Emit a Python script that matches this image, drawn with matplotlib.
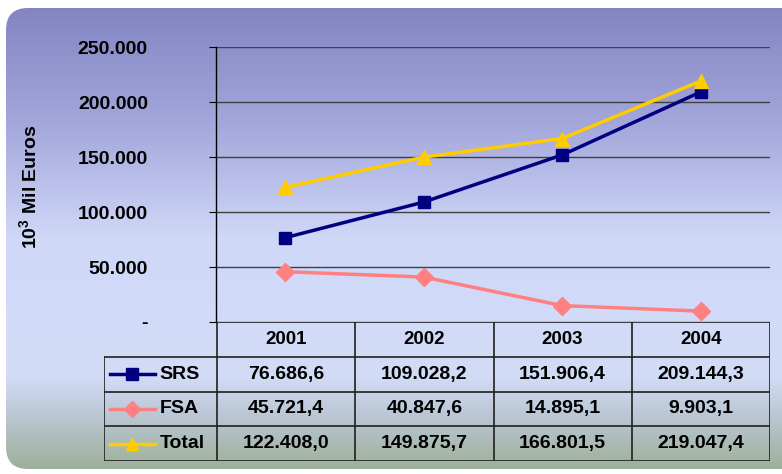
import numpy as np
import matplotlib.pyplot as plt
from matplotlib.patches import FancyBboxPatch
from matplotlib.colors import LinearSegmentedColormap

plt.rcParams['font.family'] = ['Liberation Sans', 'DejaVu Sans']
plt.rcParams['font.weight'] = 'bold'
plt.rcParams['mathtext.fontset'] = 'custom'
plt.rcParams['mathtext.bf'] = 'Liberation Sans:bold'
plt.rcParams['mathtext.rm'] = 'Liberation Sans:bold'

# dados
anos = ['2001', '2002', '2003', '2004']
srs = [76686.6, 109028.2, 151906.4, 209144.3]
fsa = [45721.4, 40847.6, 14895.1, 9903.1]
total = [122408.0, 149875.7, 166801.5, 219047.4]
srs_txt = ['76.686,6', '109.028,2', '151.906,4', '209.144,3']
fsa_txt = ['45.721,4', '40.847,6', '14.895,1', '9.903,1']
total_txt = ['122.408,0', '149.875,7', '166.801,5', '219.047,4']
yticks = [0, 50000, 100000, 150000, 200000, 250000]
ylabels = ['-', '50.000', '100.000', '150.000', '200.000', '250.000']

W, H = 782, 474
fig = plt.figure(figsize=(W / 100, H / 100), dpi=100)

# fundo em gradiente com canto arredondado
bg = fig.add_axes([0, 0, 1, 1])
bg.set_xlim(0, W)
bg.set_ylim(H, 0)
bg.axis('off')
cmap = LinearSegmentedColormap.from_list('fundo', [
    (0.0, '#8385c2'), (0.25, '#a3a7db'), (0.5, '#d0d8f8'),
    (0.8, '#d2dcf6'), (0.88, '#bcc8d6'), (1.0, '#9db09a')])
grad = np.linspace(0, 1, 256).reshape(-1, 1)
im = bg.imshow(grad, cmap=cmap, aspect='auto', extent=(6, W + 30, 469, 8))
box = FancyBboxPatch((6, 8), W + 30, 461, boxstyle='round,pad=0,rounding_size=22',
                     facecolor='none', edgecolor='none', transform=bg.transData)
bg.add_patch(box)
im.set_clip_path(box)

# grafico
x = np.arange(len(anos))
ax = fig.add_axes([216 / W, 1 - 322 / H, (770 - 216) / W, (322 - 47) / H])
ax.patch.set_alpha(0)
ax.set_xlim(-0.5, 3.5)
ax.set_ylim(0, 250000)
ax.set_yticks(yticks)
ax.set_yticklabels(ylabels, fontsize=14, fontweight='bold')
ax.tick_params(axis='y', length=5, pad=44, color='black')
ax.set_xticks([])
for s in ['top', 'right', 'bottom']:
    ax.spines[s].set_visible(False)
ax.spines['left'].set_linewidth(1)
ax.grid(axis='y', color='#404040', linewidth=1)
ax.set_axisbelow(True)

ax.plot(x, fsa, color='#ff8080', lw=2.5, marker='D', ms=9, clip_on=False)
ax.plot(x, srs, color='#000080', lw=2.5, marker='s', ms=9, clip_on=False)
ax.plot(x, total, color='#ffcc00', lw=2.5, marker='^', ms=10, clip_on=False)

fig.text(29 / W, 1 - 187 / H, r'$\mathbf{10^3}$ Mil Euros', rotation=90, fontsize=14,
         fontweight='bold', ha='center', va='center')

# tabela de dados
tb = fig.add_axes([104 / W, 1 - 461 / H, (770 - 104) / W, (461 - 322) / H])
x0 = -0.5 - 113 / 138.25
tb.set_xlim(x0, 3.5)
tb.set_ylim(4, 0)
tb.axis('off')
lc = '#202020'
# linhas horizontais
tb.plot([-0.5, 3.5], [0, 0], color=lc, lw=1.2)
for r in [1, 2, 3, 4]:
    tb.plot([x0, 3.5], [r, r], color=lc, lw=1.2)
# linhas verticais
tb.plot([x0, x0], [1, 4], color=lc, lw=1.2)
for c in np.arange(-0.5, 3.6, 1):
    tb.plot([c, c], [0, 4], color=lc, lw=1.2)

for i, a in enumerate(anos):
    tb.text(i, 0.5, a, ha='center', va='center', fontsize=13.5, fontweight='bold')
linhas = [(srs_txt, 'SRS', '#000080', 's', 8), (fsa_txt, 'FSA', '#ff8080', 'D', 8),
          (total_txt, 'Total', '#ffcc00', '^', 9)]
for r, (vals, nome, cor, mk, ms) in enumerate(linhas, start=1):
    for i, v in enumerate(vals):
        tb.text(i, r + 0.5, v, ha='center', va='center', fontsize=14, fontweight='bold')
    tb.plot([x0 + 0.045, x0 + 0.37], [r + 0.5, r + 0.5], color=cor, lw=2.5)
    tb.plot([x0 + 0.205], [r + 0.5], color=cor, marker=mk, ms=ms)
    tb.text(x0 + 0.4, r + 0.5, nome, ha='left', va='center', fontsize=14, fontweight='bold')

fig.savefig('out.png', dpi=100)
